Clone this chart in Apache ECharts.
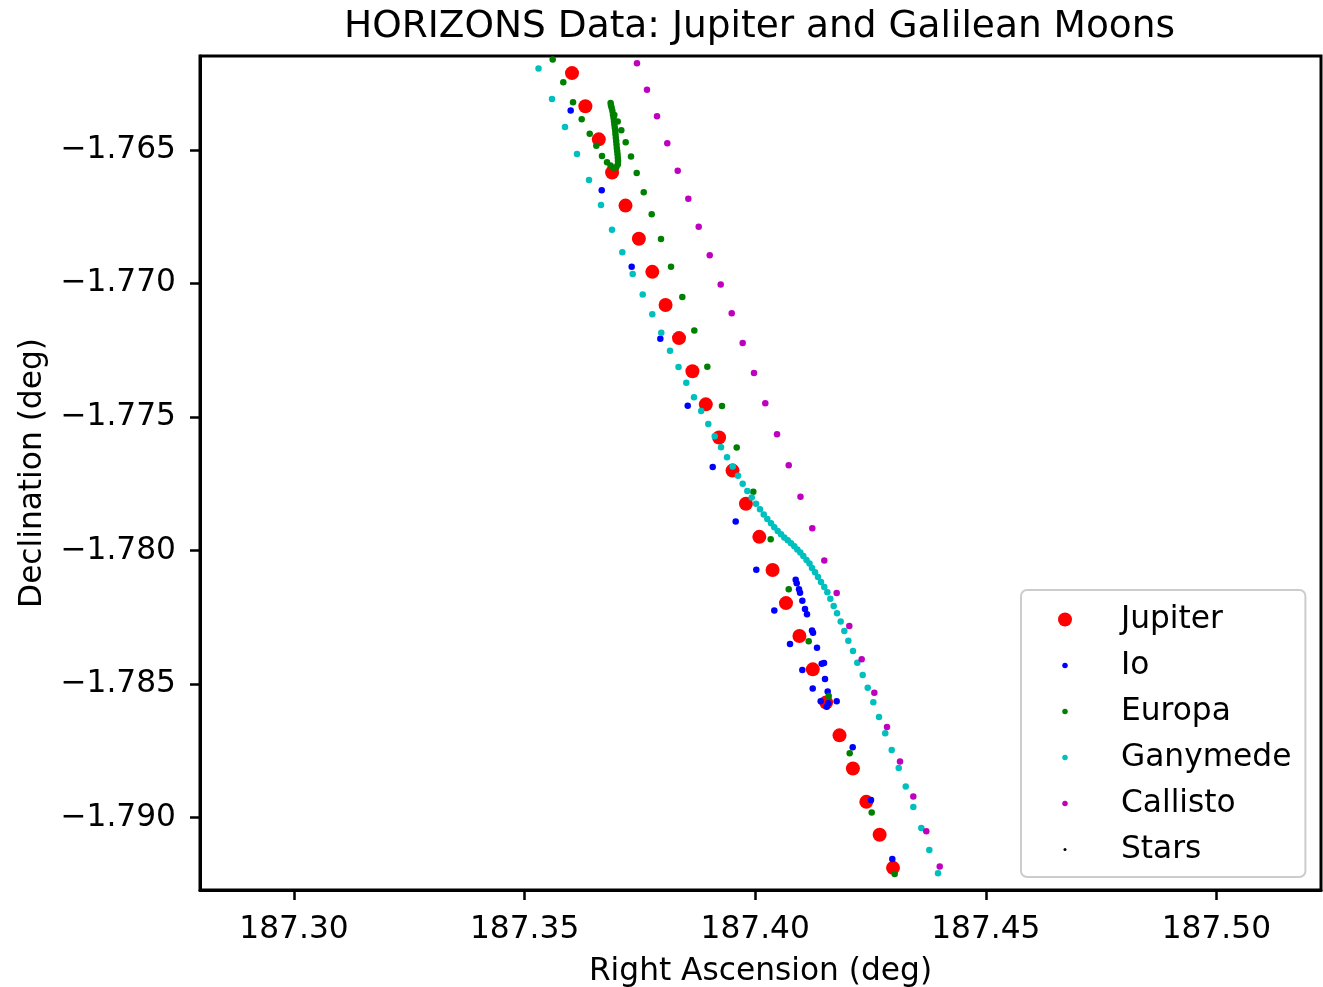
<!DOCTYPE html>
<html>
<head>
<meta charset="utf-8">
<script src="https://cdn.jsdelivr.net/npm/echarts@6/dist/echarts.min.js"></script>
<style>
html,body{margin:0;padding:0;background:#fff;}
#chart{width:1323px;height:987px;}
</style>
</head>
<body>
<div id="chart"></div>
<script>
const FONT = 'DejaVu Sans';
const titleText = 'HORIZONS Data: Jupiter and Galilean Moons';
const xAxisName = 'Right Ascension (deg)';
const yAxisName = 'Declination (deg)';
const seriesNames = ['Jupiter', 'Io', 'Europa', 'Ganymede', 'Callisto', 'Stars'];
const xTicks = [187.30, 187.35, 187.40, 187.45, 187.50];
const yTicks = [-1.765, -1.770, -1.775, -1.780, -1.785, -1.790];
const xRange = [187.27962, 187.52268];
const yRange = [-1.79271, -1.76149];

const jupiterRA = [187.36028,187.36318,187.36609,187.36897,187.37188,187.37478,187.37769,187.38057,187.38348,187.38639,187.38929,187.39217,187.39508,187.39799,187.40089,187.40377,187.40668,187.40959,187.41249,187.41538,187.41828,187.42119,187.42409,187.42698,187.42988];
const jupiterDec = [-1.76213,-1.76337,-1.76461,-1.76585,-1.76709,-1.76833,-1.76957,-1.77081,-1.77205,-1.77329,-1.77453,-1.77577,-1.77701,-1.77825,-1.77949,-1.78073,-1.78197,-1.78320,-1.78445,-1.78569,-1.78692,-1.78816,-1.78941,-1.79064,-1.79188];

const ioRA = [187.35999,187.36672,187.37322,187.37943,187.38537,187.39079,187.39577,187.40024,187.40414,187.40755,187.41022,187.41247,187.41420,187.40878,187.40900,187.40950,187.40972,187.41022,187.41080,187.41123,187.41232,187.41254,187.41340,187.41442,187.41492,187.41514,187.41572,187.41551,187.41585,187.41767,187.42114,187.42511,187.42973];
const ioDec = [-1.76353,-1.76652,-1.76938,-1.77207,-1.77458,-1.77688,-1.77892,-1.78072,-1.78225,-1.78350,-1.78447,-1.78517,-1.78564,-1.78110,-1.78123,-1.78145,-1.78158,-1.78188,-1.78219,-1.78239,-1.78300,-1.78308,-1.78364,-1.78424,-1.78421,-1.78481,-1.78528,-1.78585,-1.78572,-1.78564,-1.78737,-1.78934,-1.79155];

const europaRA = [187.35609,187.35839,187.36050,187.36238,187.36412,187.36555,187.36678,187.36787,187.36863,187.36928,187.36988,187.37021,187.37025,187.37021,187.37015,187.37008,187.36999,187.36993,187.36986,187.36978,187.36971,187.36965,187.36956,187.36947,187.36939,187.36928,187.36917,187.36904,187.36889,187.36874,187.36865,187.36945,187.37019,187.37097,187.37192,187.37307,187.37431,187.37583,187.37756,187.37958,187.38175,187.38420,187.38680,187.38962,187.39280,187.39599,187.39959,187.40336,187.40727,187.41160,187.41594,187.42049,187.42526,187.43025];
const europaDec = [-1.76162,-1.76247,-1.76322,-1.76386,-1.76440,-1.76485,-1.76523,-1.76547,-1.76559,-1.76567,-1.76565,-1.76555,-1.76542,-1.76530,-1.76517,-1.76505,-1.76493,-1.76480,-1.76467,-1.76455,-1.76442,-1.76430,-1.76418,-1.76405,-1.76393,-1.76380,-1.76368,-1.76355,-1.76344,-1.76334,-1.76325,-1.76370,-1.76394,-1.76427,-1.76472,-1.76525,-1.76587,-1.76659,-1.76741,-1.76834,-1.76938,-1.77051,-1.77177,-1.77312,-1.77459,-1.77615,-1.77780,-1.77958,-1.78145,-1.78340,-1.78545,-1.78759,-1.78981,-1.79211];

const ganymedeRA = [187.35302,187.35594,187.35876,187.36136,187.36397,187.36657,187.36895,187.37119,187.37344,187.37561,187.37769,187.37964,187.38153,187.38337,187.38506,187.38673,187.38829,187.38983,187.39122,187.39259,187.39389,187.39512,187.39627,187.39729,187.39829,187.39924,187.40018,187.40104,187.40185,187.40263,187.40343,187.40414,187.40488,187.40560,187.40631,187.40705,187.40777,187.40848,187.40913,187.40978,187.41043,187.41113,187.41178,187.41232,187.41297,187.41362,187.41427,187.41498,187.41564,187.41629,187.41702,187.41774,187.41854,187.41932,187.42019,187.42121,187.42214,187.42331,187.42440,187.42561,187.42685,187.42819,187.42960,187.43112,187.43264,187.43428,187.43602,187.43775,187.43964];
const ganymedeDec = [-1.76196,-1.76310,-1.76415,-1.76516,-1.76613,-1.76707,-1.76799,-1.76884,-1.76965,-1.77042,-1.77116,-1.77185,-1.77252,-1.77313,-1.77372,-1.77426,-1.77478,-1.77527,-1.77572,-1.77614,-1.77651,-1.77686,-1.77720,-1.77750,-1.77777,-1.77802,-1.77825,-1.77846,-1.77865,-1.77882,-1.77898,-1.77913,-1.77927,-1.77939,-1.77951,-1.77962,-1.77973,-1.77984,-1.77996,-1.78008,-1.78021,-1.78036,-1.78049,-1.78066,-1.78082,-1.78099,-1.78118,-1.78137,-1.78156,-1.78181,-1.78208,-1.78235,-1.78266,-1.78301,-1.78338,-1.78376,-1.78420,-1.78466,-1.78514,-1.78568,-1.78623,-1.78684,-1.78747,-1.78814,-1.78884,-1.78960,-1.79039,-1.79121,-1.79208];

const callistoRA = [187.37437,187.37654,187.37871,187.38094,187.38320,187.38550,187.38775,187.39014,187.39252,187.39491,187.39729,187.39974,187.40219,187.40473,187.40727,187.40982,187.41238,187.41498,187.41767,187.42041,187.42309,187.42583,187.42858,187.43140,187.43428,187.43710,187.44001];
const callistoDec = [-1.76176,-1.76275,-1.76375,-1.76476,-1.76579,-1.76683,-1.76788,-1.76895,-1.77004,-1.77112,-1.77223,-1.77336,-1.77449,-1.77565,-1.77681,-1.77799,-1.77917,-1.78038,-1.78159,-1.78283,-1.78407,-1.78533,-1.78661,-1.78790,-1.78921,-1.79051,-1.79183];

const starsRA = [];
const starsDec = [];

function zip(a, b) { return a.map((v, i) => [v, b[i]]); }

const colors = ['#ff0000', '#0000ff', '#008000', '#00bfbf', '#bf00bf', '#000000'];
const sizes = [14, 6.5, 6.5, 6.5, 6.5, 3.5];
const dataSets = [
  zip(jupiterRA, jupiterDec),
  zip(ioRA, ioDec),
  zip(europaRA, europaDec),
  zip(ganymedeRA, ganymedeDec),
  zip(callistoRA, callistoDec),
  zip(starsRA, starsDec)
];

const smallIcon = 'path://M0,0M14,14M4.25,7a2.75,2.75 0 1,0 5.5,0a2.75,2.75 0 1,0 -5.5,0Z';
const tinyIcon = 'path://M0,0M14,14M5.5,7a1.5,1.5 0 1,0 3,0a1.5,1.5 0 1,0 -3,0Z';
const legendIcons = ['circle', smallIcon, smallIcon, smallIcon, smallIcon, tinyIcon];

const chart = echarts.init(document.getElementById('chart'), null, { renderer: 'canvas' });

const option = {
  animation: false,
  backgroundColor: '#ffffff',
  title: {
    text: titleText,
    left: 344,
    top: 8,
    padding: 0,
    textStyle: { fontFamily: FONT, fontSize: 37.5, fontWeight: 'normal', color: '#000' }
  },
  grid: {
    left: 200, right: 2, top: 56, bottom: 97,
    outerBoundsMode: 'none',
    containLabel: false,
    show: true, borderColor: '#000', borderWidth: 3, backgroundColor: 'transparent'
  },
  legend: {
    orient: 'vertical',
    left: 1021, top: 590,
    padding: [14, 14, 12, 37],
    itemGap: 15,
    itemWidth: 14, itemHeight: 14,
    backgroundColor: 'rgba(255,255,255,0.8)',
    borderColor: '#cccccc', borderWidth: 2, borderRadius: 6,
    textStyle: { fontFamily: FONT, fontSize: 31.25, color: '#000', lineHeight: 31, padding: [0, 0, 0, 44] },
    data: seriesNames.map((n, i) => ({ name: n, icon: legendIcons[i] }))
  },
  xAxis: {
    type: 'value',
    min: xRange[0], max: xRange[1],
    name: xAxisName, nameLocation: 'middle', nameGap: 66,
    nameTextStyle: { fontFamily: FONT, fontSize: 31.25, color: '#000', lineHeight: 31 },
    axisLine: { show: true, onZero: false, lineStyle: { color: '#000', width: 3 } },
    axisTick: { show: true, length: 10, inside: false, customValues: xTicks, lineStyle: { color: '#000', width: 2.5 } },
    axisLabel: { show: true, margin: 24, customValues: xTicks, fontFamily: FONT, fontSize: 31.25, color: '#000', lineHeight: 31,
      formatter: v => v.toFixed(2) },
    splitLine: { show: false }
  },
  yAxis: {
    type: 'value',
    min: yRange[0], max: yRange[1],
    name: yAxisName, nameLocation: 'middle', nameGap: 152,
    nameTextStyle: { fontFamily: FONT, fontSize: 31.25, color: '#000', lineHeight: 31 },
    axisLine: { show: true, onZero: false, lineStyle: { color: '#000', width: 3 } },
    axisTick: { show: true, length: 10, inside: false, customValues: yTicks, lineStyle: { color: '#000', width: 2.5 } },
    axisLabel: { show: true, margin: 24, customValues: yTicks, fontFamily: FONT, fontSize: 31.25, color: '#000',
      formatter: v => '\u2212' + Math.abs(v).toFixed(3) },
    splitLine: { show: false }
  },
  series: seriesNames.map((n, i) => ({
    name: n,
    type: 'scatter',
    data: dataSets[i],
    symbol: 'circle',
    symbolSize: sizes[i],
    itemStyle: { color: colors[i], opacity: 1 },
    emphasis: { disabled: true },
    z: 2 + i
  }))
};

chart.setOption(option);
</script>
</body>
</html>
